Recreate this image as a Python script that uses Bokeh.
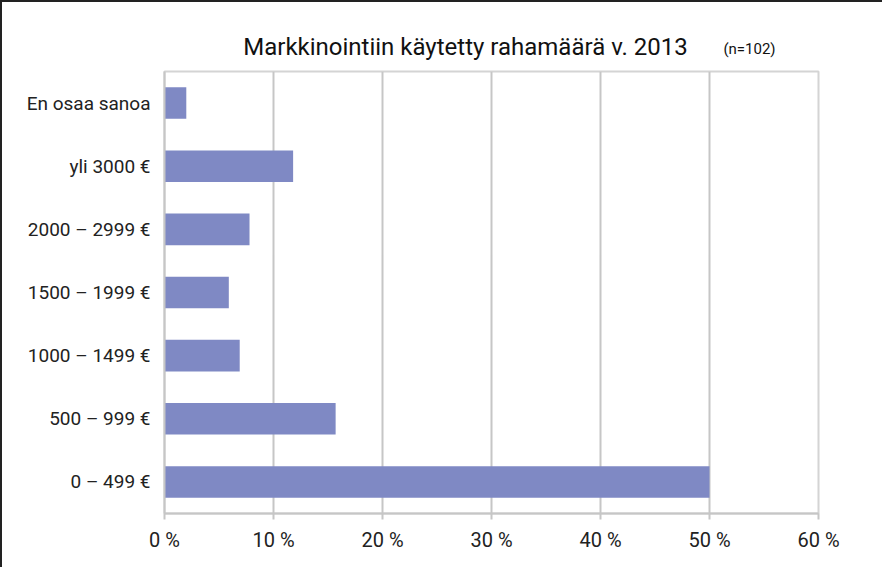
from bokeh.plotting import figure
from bokeh.layouts import column
from bokeh.models import Range1d, FactorRange, FixedTicker, Label
from bokeh.embed import file_html
from bokeh.resources import INLINE

categories = ["0 – 499 €", "500 – 999 €", "1000 – 1499 €", "1500 – 1999 €",
              "2000 – 2999 €", "yli 3000 €", "En osaa sanoa"]
values = [50.0, 15.7, 6.9, 5.9, 7.8, 11.8, 2.0]
tick_values = [0, 10, 20, 30, 40, 50, 60]
tick_labels = {t: f"{t} %" for t in tick_values}
title_text = "Markkinointiin käytetty rahamäärä v. 2013"
note_text = "(n=102)"

FONT = "Roboto"
GRID = "#c6c6c6"
BORDER = "2px solid #222"

LEFT, RIGHT = 162, 66
FRAME_W = 652
TITLE_H = 67

# ---- title strip ----
t = figure(frame_width=FRAME_W, frame_height=TITLE_H, output_backend="svg",
           toolbar_location=None, x_range=Range1d(0, 1), y_range=Range1d(0, 1),
           min_border_left=LEFT, min_border_right=RIGHT,
           min_border_top=0, min_border_bottom=0)
t.axis.visible = False
t.grid.visible = False
t.outline_line_color = None
t.styles = {"border-left": BORDER, "border-top": BORDER}
t.add_layout(Label(x=301, y=25, x_units="screen", y_units="screen",
                   text=title_text, text_font=FONT, text_font_size="24px",
                   text_color="#111", text_align="center", text_baseline="middle"))
t.add_layout(Label(x=585, y=23, x_units="screen", y_units="screen",
                   text=note_text, text_font=FONT, text_font_size="15px",
                   text_color="#111", text_align="center", text_baseline="middle"))

# ---- main chart ----
p = figure(frame_width=FRAME_W, frame_height=442, output_backend="svg",
           toolbar_location=None,
           x_range=Range1d(0, 60), y_range=FactorRange(*categories, range_padding=0),
           min_border_left=LEFT, min_border_right=RIGHT, min_border_top=2,
           min_border_bottom=54)
p.styles = {"border-left": BORDER}
p.hbar(y=categories, right=values, height=0.5, color="#7f89c4", line_color=None)

p.outline_line_color = "#d4d4d4"
p.outline_line_width = 2

p.xgrid.ticker = FixedTicker(ticks=tick_values)
p.xgrid.grid_line_color = GRID
p.xgrid.grid_line_width = 2
p.ygrid.grid_line_color = None

p.xaxis.ticker = FixedTicker(ticks=tick_values)
p.xaxis.major_label_overrides = tick_labels
p.xaxis.axis_line_color = GRID
p.xaxis.axis_line_width = 2
p.xaxis.major_tick_line_color = GRID
p.xaxis.major_tick_line_width = 2
p.xaxis.major_tick_out = 6
p.xaxis.major_tick_in = 0
p.xaxis.minor_tick_line_color = None
p.xaxis.major_label_text_font = FONT
p.xaxis.major_label_text_font_size = "20px"
p.xaxis.major_label_text_color = "#222"
p.xaxis.major_label_standoff = 8

p.yaxis.axis_line_color = GRID
p.yaxis.axis_line_width = 2
p.yaxis.major_tick_line_color = None
p.yaxis.minor_tick_line_color = None
p.yaxis.major_label_text_font = FONT
p.yaxis.major_label_text_font_size = "19px"
p.yaxis.major_label_text_color = "#222"
p.yaxis.major_label_standoff = 8

layout = column(t, p, spacing=0)
open("out.html", "w").write(file_html(layout, INLINE))
